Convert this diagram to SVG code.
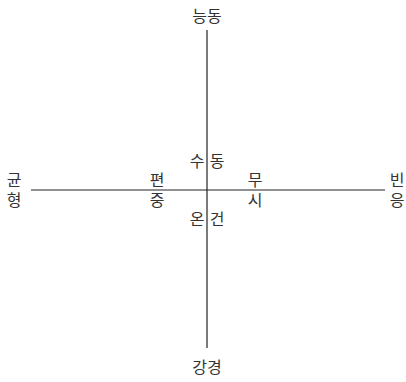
<svg xmlns="http://www.w3.org/2000/svg" width="406" height="382" viewBox="0 0 406 382">
<style>
text{font-family:"Noto Sans CJK KR","Noto Sans",sans-serif;font-size:16px;fill:#333;text-anchor:middle}
line{stroke:#222;stroke-width:1.2}
</style>
<rect width="406" height="382" fill="#fff"/>
<g id="connectors">
<line x1="207" y1="30" x2="207" y2="348"/>
<line x1="31" y1="190" x2="385" y2="190"/>
</g>
<g id="top"><text x="207" y="22">능동</text></g>
<g id="bottom"><text x="207" y="373">강경</text></g>
<g id="passive"><text x="197" y="167">수</text><text x="217" y="167">동</text></g>
<g id="moderate"><text x="197" y="225">온</text><text x="217" y="225">건</text></g>
<g id="left"><text x="14" y="186">균</text><text x="14" y="206">형</text></g>
<g id="bias"><text x="157" y="186">편</text><text x="157" y="206">중</text></g>
<g id="ignore"><text x="255" y="186">무</text><text x="255" y="206">시</text></g>
<g id="right"><text x="397" y="186">빈</text><text x="397" y="206">응</text></g>
</svg>
